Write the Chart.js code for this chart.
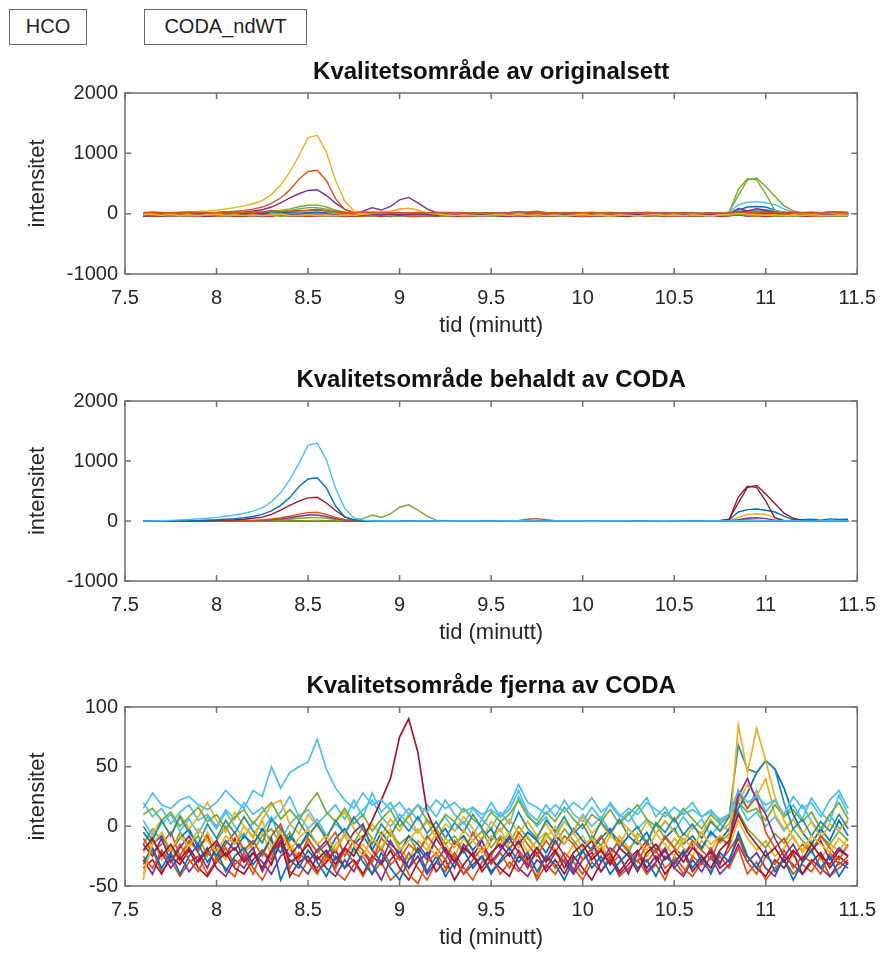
<!DOCTYPE html>
<html>
<head>
<meta charset="utf-8">
<script src="https://cdn.jsdelivr.net/npm/chart.js@4.4.1/dist/chart.umd.min.js"></script>
<style>
  body { margin: 0; background: #fff; width: 888px; height: 956px; position: relative; overflow: hidden;
         font-family: "Liberation Sans", Arial, sans-serif; }
  .btn { position: absolute; top: 9px; height: 36px; box-sizing: border-box; border: 1.5px solid #6a6a6a;
         font-size: 20px; line-height: 33px; text-align: center; color: #222; background: #fff; }
  .panel { position: absolute; left: 0; width: 888px; }
</style>
</head>
<body>
<div class="btn" style="left:9px;width:78px">HCO</div>
<div class="btn" style="left:144px;width:163px">CODA_ndWT</div>
<div class="panel" style="top:48px"><canvas id="c1" width="888" height="296"></canvas></div>
<div class="panel" style="top:356px"><canvas id="c2" width="888" height="295"></canvas></div>
<div class="panel" style="top:662px"><canvas id="c3" width="888" height="294"></canvas></div>
<script>
// tidsakse (minutt), felles for alle kurvene
const time = [
  7.60, 7.65, 7.70, 7.75, 7.80, 7.85, 7.90, 7.95, 8.00, 8.05,
  8.10, 8.15, 8.20, 8.25, 8.30, 8.35, 8.40, 8.45, 8.50, 8.55,
  8.60, 8.65, 8.70, 8.75, 8.80, 8.85, 8.90, 8.95, 9.00, 9.05,
  9.10, 9.15, 9.20, 9.25, 9.30, 9.35, 9.40, 9.45, 9.50, 9.55,
  9.60, 9.65, 9.70, 9.75, 9.80, 9.85, 9.90, 9.95, 10.00, 10.05,
  10.10, 10.15, 10.20, 10.25, 10.30, 10.35, 10.40, 10.45, 10.50, 10.55,
  10.60, 10.65, 10.70, 10.75, 10.80, 10.85, 10.90, 10.95, 11.00, 11.05,
  11.10, 11.15, 11.20, 11.25, 11.30, 11.35, 11.40, 11.45
];

const xTicks = [7.5, 8, 8.5, 9, 9.5, 10, 10.5, 11, 11.5];
const yTicksBig = [-1000, 0, 1000, 2000];
const yTicksSmall = [-50, 0, 50, 100];

// kurver som CODA beheld
const kept1 = [
  0, 2, 5, 10, 18, 25, 35, 45, 60, 80,
  100, 130, 165, 220, 320, 470, 690, 960, 1260, 1300,
  1020, 550, 210, 50, 15, 5, 0, 3, 0, -2,
  0, 2, 0, -3, 0, 2, 0, 0, -2, 0,
  0, 3, 0, 0, -2, 0, 2, 0, 0, -3,
  0, 0, 2, 0, -2, 0, 0, 3, 0, 0,
  -2, 0, 0, 2, 0, 5, 8, 5, 3, 0,
  0, 2, 0, -2, 0, 3, 0, 0
];
const kept2 = [
  0, 0, 2, 0, 5, 5, 10, 15, 20, 30,
  40, 55, 75, 110, 170, 260, 390, 570, 700, 720,
  550, 250, 70, 20, 5, 0, 2, 0, -2, 0,
  0, 0, 2, 0, 0, -2, 0, 2, 0, 0,
  -2, 0, 0, 2, 0, 0, -2, 0, 0, 2,
  0, 0, -2, 0, 2, 0, 0, 0, -2, 0,
  0, 0, 2, 0, 0, 4, 6, 4, 2, 0,
  0, 0, 2, 0, 0, -2, 0, 0
];
const kept3 = [
  0, 0, 0, 2, 0, 3, 5, 8, 10, 15,
  20, 30, 45, 65, 110, 180, 260, 330, 385, 395,
  300, 175, 70, 20, 5, 0, 0, 2, 0, 0,
  -2, 0, 0, 2, 0, 0, 0, -2, 0, 0,
  2, 0, 0, 0, -2, 0, 0, 2, 0, 0,
  0, -2, 0, 0, 2, 0, 0, 0, -2, 0,
  0, 2, 0, 0, 3, 8, 12, 10, 5, 2,
  0, 0, -2, 0, 0, 2, 0, 0
];
const kept4 = [
  0, 0, 0, 0, 0, 0, 0, 2, 3, 5,
  5, 8, 10, 20, 35, 55, 80, 115, 140, 145,
  110, 60, 25, 5, 0, 2, 0, 0, -2, 0,
  0, 2, 0, 0, 0, -2, 0, 0, 2, 0,
  0, 0, -2, 0, 0, 2, 0, 0, 0, -2,
  0, 0, 2, 0, 0, 0, -2, 0, 0, 2,
  0, 0, 0, -2, 0, 2, 4, 3, 0, 0,
  2, 0, 0, 0, -2, 0, 0, 2
];
const kept5 = [
  0, 0, 2, 0, 0, 0, -2, 0, 2, 3,
  3, 5, 6, 10, 20, 35, 55, 80, 100, 100,
  75, 40, 15, 5, 0, 0, 2, 0, 0, 0,
  -2, 0, 0, 2, 0, 0, 0, -2, 0, 0,
  2, 0, 0, 0, -2, 0, 0, 2, 0, 0,
  0, -2, 0, 0, 2, 0, 0, 0, -2, 0,
  0, 2, 0, 0, 0, 5, 8, 6, 2, 0,
  0, 0, -2, 0, 0, 2, 0, 0
];
const kept6 = [
  0, 0, 0, 2, 0, 0, 0, 0, 2, 2,
  2, 3, 5, 6, 10, 20, 30, 45, 55, 60,
  45, 25, 10, 3, 0, 0, 0, 2, 0, 0,
  0, -2, 0, 0, 2, 0, 0, 0, -2, 0,
  0, 2, 0, 0, 0, -2, 0, 0, 2, 0,
  0, 0, -2, 0, 0, 2, 0, 0, 0, -2,
  0, 0, 2, 0, 0, 3, 5, 4, 2, 0,
  -2, 0, 0, 2, 0, 0, 0, -2
];
const kept7 = [
  0, 0, 2, 0, 0, 0, -2, 0, 0, 2,
  0, 0, 0, -2, 0, 2, 0, 0, 3, 5,
  0, 0, 5, 10, 40, 100, 60, 120, 230, 270,
  180, 80, 15, 3, 0, 0, 2, 0, 0, 0,
  -2, 0, 0, 2, 0, 0, 0, -2, 0, 0,
  2, 0, 0, 0, -2, 0, 0, 2, 0, 0,
  0, -2, 0, 0, 2, 4, 6, 5, 2, 0,
  0, 2, 0, 0, 0, -2, 0, 0
];
const kept8 = [
  0, 0, -2, 0, 0, 2, 0, 0, 0, -2,
  0, 0, 2, 0, 0, 0, -2, 0, 4, 6,
  2, 0, 0, 0, -2, 0, 0, 2, 0, 0,
  0, -2, 0, 0, 2, 0, 0, 0, -2, 0,
  0, 2, 0, 0, 0, -2, 0, 0, 2, 0,
  0, 0, -2, 0, 0, 2, 0, 0, 0, 2,
  0, 0, 2, 5, 30, 300, 560, 590, 450, 290,
  130, 45, 10, 3, 0, 2, 0, 0
];
const kept9 = [
  0, 2, 0, 0, -2, 0, 0, 0, 2, 0,
  0, -2, 0, 0, 0, 2, 0, 0, 3, 4,
  0, 0, -2, 0, 0, 0, 2, 0, 0, -2,
  0, 0, 0, 2, 0, 0, -2, 0, 0, 0,
  2, 0, 0, -2, 0, 0, 0, 2, 0, 0,
  -2, 0, 0, 0, 2, 0, 0, -2, 0, 0,
  0, 0, 0, 3, 20, 400, 580, 560, 330, 50,
  5, 0, 0, 0, 2, 0, 0, 0
];
const kept10 = [
  0, 0, 2, 0, 0, -2, 0, 0, 0, 2,
  0, 0, -2, 0, 0, 0, 2, 0, 5, 8,
  3, 0, 0, 0, 2, 0, 0, -2, 0, 0,
  0, 2, 0, 0, -2, 0, 0, 0, 2, 0,
  0, -2, 0, 0, 0, 2, 0, 0, -2, 0,
  0, 0, 2, 0, 0, -2, 0, 0, 0, 2,
  0, 2, 0, 5, 20, 150, 190, 200, 180, 150,
  80, 20, 20, 30, 15, 35, 25, 30
];
const kept11 = [
  0, -2, 0, 0, 2, 0, 0, 0, -2, 0,
  0, 2, 0, 0, -2, 0, 0, 2, 3, 2,
  0, 0, 0, -2, 0, 0, 2, 0, 0, 0,
  -2, 0, 0, 0, 2, 0, 0, -2, 0, 0,
  0, 2, 0, 0, -2, 0, 0, 0, 2, 0,
  0, -2, 0, 0, 0, 2, 0, 0, -2, 0,
  0, 0, 2, 0, 10, 60, 110, 120, 110, 60,
  10, 0, 2, 0, 0, 3, 0, 0
];
const kept12 = [
  0, 0, 0, 2, 0, 0, -2, 0, 0, 0,
  2, 0, 0, -2, 0, 0, 0, 2, 4, 3,
  0, -2, 0, 0, 0, 2, 0, 0, -2, 0,
  0, 0, 2, 0, 0, -2, 0, 0, 0, 2,
  0, 0, -2, 0, 0, 0, 2, 0, 0, -2,
  0, 0, 0, 2, 0, 0, -2, 0, 0, 0,
  0, 0, 0, 0, 5, 20, 45, 55, 40, 15,
  3, 0, 0, 0, 0, 0, 0, 0
];
const kept13 = [
  -2, 0, 0, 0, 2, 0, 0, -2, 0, 0,
  0, 2, 0, 0, -2, 0, 0, 0, 2, 0,
  0, -2, 0, 0, 0, 2, 0, 0, -2, 0,
  0, 0, 2, 0, 0, -2, 0, 0, 0, 2,
  2, 10, 30, 40, 20, 5, 0, 0, 2, 0,
  0, -2, 0, 0, 0, 2, 0, 0, -2, 0,
  0, 0, 2, 0, 0, 3, 5, 3, 0, 0,
  -2, 0, 0, 0, 2, 0, 0, -2
];

// kurver som CODA fjerna
const removed1 = [
  15, 28, 18, 15, 22, 25, 18, 14, 20, 30,
  22, 15, 30, 25, 50, 32, 45, 50, 54, 73,
  48, 32, 22, 15, 28, 18, 22, 14, 20, 10,
  18, 12, 22, 15, 20, 12, 16, 10, 14, 8,
  18, 35, 20, 16, 10, 18, 12, 20, 14, 24,
  12, 18, 8, 15, 10, 20, 14, 8, 16, 10,
  14, 8, 12, 6, 10, 30, 20, 25, 18, 22,
  10, 25, 15, 20, 8, 22, 30, 15
];
const removed2 = [
  -20, -10, -25, -15, -28, -18, -30, -20, -12, -25,
  -18, -30, -22, -35, -20, -8, -30, -25, -15, -28,
  -20, -32, -18, -25, -10, 5, 22, 40, 75, 90,
  62, 12, -5, -20, -30, -18, -25, -35, -22, -15,
  -25, -12, -28, -18, -30, -20, -35, -22, -15, -28,
  -20, -32, -18, -25, -38, -22, -15, -28, -20, -30,
  -18, -25, -35, -20, -12, 10, -5, -15, -25, -18,
  -30, -20, -28, -15, -25, -32, -20, -25
];
const removed3 = [
  -40, -15, -5, -20, -8, -18, -2, -12, -22, -8,
  -15, 0, -10, 5, -18, -5, -20, -10, -2, -15,
  -8, -20, -5, -15, -25, -10, -18, -5, -20, -12,
  -2, -15, -25, -10, -18, -3, -12, -22, -8, -15,
  -5, -18, -8, -20, -10, 0, -15, -5, -18, -10,
  -22, -8, -15, -2, -12, -20, -6, -15, -25, -10,
  -18, -5, -15, -8, -10, 85, 45, 82, 55, 25,
  5, -10, -20, -8, -15, -22, -10, -18
];
const removed4 = [
  -30, -18, -35, -22, -40, -25, -15, -30, -20, -38,
  -25, -18, -32, -22, -10, -45, -28, -35, -20, -30,
  -42, -25, -35, -18, -30, -40, -22, -35, -45, -28,
  -20, -38, -25, -42, -30, -20, -35, -25, -40, -28,
  -18, -30, -22, -38, -25, -32, -45, -28, -20, -35,
  -25, -40, -30, -22, -35, -28, -42, -25, -32, -20,
  -35, -25, -40, -22, -30, -5, -25, -35, -20, -38,
  -28, -45, -30, -20, -35, -25, -42, -30
];
const removed5 = [
  0, -12, 5, -8, 8, -5, -15, 2, -10, 5,
  -6, 8, -4, -14, 6, -2, -12, 4, -8, 2,
  -10, 5, -6, 8, -3, -15, 2, -8, 6, -4,
  8, -6, 4, -10, 3, -5, 10, -2, -12, 4,
  -6, 12, -2, -10, 5, -4, 8, -6, 2, -12,
  4, -6, 6, -8, 0, -14, 3, -5, 7, -7,
  2, -10, 4, -4, 8, 68, 48, 45, 55, 48,
  20, -2, 6, -8, 4, -4, 10, -2
];
const removed6 = [
  -15, -25, -10, -30, -18, -8, -22, -35, -15, -25,
  -10, -28, -18, -38, -22, -12, -25, -15, -30, -20,
  -12, -28, -18, -5, 2, -20, -30, -12, -25, -35,
  -18, -28, -10, -22, -35, -15, -25, -12, -30, -20,
  -10, -22, -35, -18, -28, -12, -25, -38, -20, -12,
  -30, -18, -25, -40, -22, -12, -28, -18, -35, -25,
  -15, -30, -20, -32, -15, 25, 40, 22, 10, -10,
  -25, -15, -30, -20, -12, -28, -18, -25
];
const removed7 = [
  10, 15, 5, 12, 0, 8, 16, 4, 10, -2,
  8, 14, 2, 12, 20, 6, 14, 5, 18, 28,
  12, 4, 15, 2, 10, -4, 6, 14, 0, 8,
  18, 5, -2, 10, 4, 15, 6, 0, 12, 4,
  10, 22, 8, 2, 12, 4, 16, 6, -2, 10,
  4, 14, 2, 10, 18, 6, 0, 12, 4, 15,
  6, -2, 10, 2, 8, 20, 12, 15, 5, 18,
  8, 14, 4, 12, -2, 10, 20, 6
];
const removed8 = [
  -25, -35, -20, -30, -15, -28, -38, -22, -30, -18,
  -32, -25, -40, -20, -28, -5, -35, -22, -30, -40,
  -25, -35, -20, -30, -42, -28, -18, -32, -25, -40,
  -48, -30, -22, -35, -25, -40, -28, -18, -32, -22,
  -35, -20, -30, -42, -25, -35, -22, -30, -40, -25,
  -18, -32, -25, -38, -22, -30, -20, -35, -28, -40,
  -25, -32, -18, -30, -20, -8, -30, -40, -25, -32,
  -20, -35, -25, -30, -40, -22, -32, -25
];
const removed9 = [
  -10, -22, -15, -5, -25, -12, -20, -8, -28, -15,
  -5, -20, -12, -25, -8, 2, -18, -28, -10, -22,
  -15, -5, -25, -12, -20, -30, -10, -18, -28, -15,
  -22, -8, -18, -28, -12, -22, -5, -18, -25, -10,
  -20, -5, -15, -25, -12, -22, -8, -15, -28, -18,
  -8, -22, -12, -20, -30, -15, -22, -8, -18, -25,
  -12, -20, -28, -10, -15, 30, 15, 25, -5, -18,
  -10, -25, -15, -22, -8, -18, -28, -15
];
const removed10 = [
  -45, -5, 5, -8, 10, -2, 8, 20, 5, -5,
  12, 0, -8, 6, 18, 22, 2, -6, 10, 0,
  -10, 4, 12, -2, -12, 2, -8, 6, -4, 10,
  -6, 4, -10, 2, -4, 8, -2, -12, 4, -4,
  6, -6, 4, -8, 2, -10, 4, -4, 8, -6,
  2, -8, 6, -2, -10, 4, -6, 5, -4, -14,
  0, -6, 6, -4, 2, 20, 35, 25, 40, 10,
  -2, 6, -6, 4, -10, 2, -4, 6
];
const removed11 = [
  -5, -15, -8, -20, -10, -2, -18, -8, -25, -12,
  -20, -8, -15, -2, -12, -22, -8, -18, -5, -15,
  -25, -10, -2, -15, -8, -20, -5, -15, -22, -8,
  -15, -25, -10, -2, -15, -8, -20, -10, -2, -18,
  -8, -15, -5, -12, -22, -8, -15, -2, -12, -20,
  -10, -2, -18, -8, -15, -5, -20, -10, -2, -15,
  -8, -18, -5, -12, -2, 15, 28, 45, 55, 48,
  32, 10, -5, -15, -2, -12, 5, -8
];
const removed12 = [
  5, -8, 2, 10, -4, 6, -6, 8, -2, 12,
  0, -10, 4, -4, 8, -12, 2, 10, -2, 6,
  -8, 2, -6, 6, 14, 22, 8, 0, 10, 2,
  -6, 6, -2, 8, -4, 4, -8, 6, -2, 12,
  2, 25, 10, 0, 8, -6, 4, -4, 10, 0,
  8, -4, 4, 12, -2, 6, -6, 4, -4, 8,
  -2, 6, -8, 2, -4, 20, 5, 12, 0, 8,
  -4, 6, 18, 4, -6, 10, -2, 4
];
const removed13 = [
  -35, -28, -40, -25, -32, -20, -35, -42, -30, -22,
  -35, -40, -28, -20, -32, -12, -42, -30, -25, -38,
  -30, -20, -35, -28, -40, -25, -32, -20, -35, -45,
  -30, -22, -38, -28, -45, -32, -22, -38, -28, -35,
  -42, -25, -32, -22, -38, -28, -40, -25, -35, -45,
  -30, -22, -38, -28, -20, -35, -25, -40, -30, -22,
  -38, -28, -22, -35, -28, -10, -25, -35, -42, -28,
  -35, -22, -40, -30, -22, -35, -25, -32
];
const removed14 = [
  -15, -2, -12, -22, -5, -15, -8, -25, -12, 0,
  -14, -6, -20, -8, -2, -15, -5, -18, -8, 2,
  -12, -22, -6, -14, 0, -10, -20, -5, -15, -8,
  -22, -10, -2, -15, -8, -20, -12, -4, -18, -8,
  -14, 0, -10, -20, -6, -15, -2, -12, -22, -8,
  -16, -4, -12, -22, -6, -14, 2, -10, -18, -6,
  -12, -20, -4, -14, -6, 12, -2, -10, -18, -6,
  -14, -2, -12, -20, -8, -15, -4, -12
];
const removed15 = [
  -28, -40, -22, -35, -25, -38, -28, -18, -35, -42,
  -28, -35, -22, -30, -40, -25, -18, -32, -40, -25,
  -35, -42, -28, -38, -22, -32, -45, -28, -20, -35,
  -25, -40, -30, -18, -28, -40, -32, -25, -38, -30,
  -22, -35, -42, -28, -35, -22, -30, -40, -28, -22,
  -38, -28, -40, -32, -22, -38, -30, -20, -35, -42,
  -28, -38, -25, -40, -32, -15, -30, -22, -35, -42,
  -25, -32, -40, -28, -35, -42, -30, -35
];
const removed16 = [
  20, 8, 15, 2, 12, 18, 5, 10, 0, 14,
  6, 20, 10, 16, 4, 12, 25, 8, 14, 2,
  10, 18, 6, 22, 8, 28, 12, 20, 6, 15,
  5, 18, 8, 22, 10, 2, 15, 6, 20, 8,
  14, 30, 12, 5, 18, 8, 22, 10, 4, 16,
  6, 20, 10, 4, 14, 24, 8, 16, 4, 12,
  20, 8, 14, 4, 10, 25, 15, 30, 12, 22,
  8, 18, 6, 24, 12, 4, 26, 10
];
const removed17 = [
  -32, -20, -38, -28, -42, -30, -25, -40, -28, -35,
  -42, -22, -35, -45, -30, -15, -38, -42, -28, -35,
  -22, -38, -45, -32, -25, -40, -30, -45, -38, -22,
  -35, -45, -30, -38, -22, -35, -45, -30, -25, -40,
  -30, -38, -25, -45, -32, -40, -28, -35, -45, -30,
  -38, -25, -42, -35, -28, -40, -32, -45, -25, -35,
  -42, -30, -38, -25, -35, -18, -40, -30, -45, -35,
  -28, -40, -32, -38, -25, -42, -35, -28
];
const removed18 = [
  -22, -10, -28, -18, -30, -12, -22, -5, -18, -28,
  -10, -22, -15, -5, -25, 0, -15, -25, -12, -20,
  -30, -15, -8, -22, -15, -25, -10, -2, -18, -28,
  -12, -20, -5, -15, -25, -10, -20, -28, -12, -2,
  -18, -8, -22, -12, -5, -20, -28, -15, -8, -22,
  -15, -28, -8, -18, -12, -25, -15, -22, -10, -18,
  -25, -12, -20, -8, -18, 5, -10, -20, -12, -25,
  -18, -8, -22, -12, -28, -15, -20, -10
];

const keptSeries = [kept1, kept2, kept3, kept4, kept5, kept6, kept7, kept8, kept9, kept10, kept11, kept12, kept13];
const removedSeries = [removed1, removed2, removed3, removed4, removed5, removed6, removed7, removed8, removed9,
  removed10, removed11, removed12, removed13, removed14, removed15, removed16, removed17, removed18];

// MATLAB-fargar
const BLUE = '#0072BD', ORANGE = '#D95319', YELLOW = '#EDB120', PURPLE = '#7E2F8E',
      GREEN = '#77AC30', CYAN = '#4DBEEE', RED = '#A2142F', TEAL = '#2E8B9A';
const palette = [BLUE, ORANGE, YELLOW, PURPLE, GREEN, CYAN, RED];

const keptColorsAll = [YELLOW, ORANGE, PURPLE, GREEN, GREEN, TEAL, PURPLE, GREEN, GREEN, CYAN, BLUE, RED, ORANGE];
const keptColors = [CYAN, BLUE, RED, ORANGE, PURPLE, GREEN, GREEN, RED, RED, BLUE, YELLOW, PURPLE, ORANGE];
const removedColors = [CYAN, RED, YELLOW, BLUE, TEAL, PURPLE, GREEN, ORANGE, ORANGE, YELLOW, BLUE, CYAN,
  RED, GREEN, PURPLE, CYAN, ORANGE, YELLOW];

const FONT = '"Liberation Sans", Arial, Helvetica, sans-serif';
const TEXT = '#262626';
const AXIS = '#707070';

const series = (values, color, width) => ({
  data: values.map((v, i) => ({ x: time[i], y: v })),
  borderColor: color,
  borderWidth: width,
  pointRadius: 0,
  fill: false
});

// ramme med tikk innover + titlar
const framePlugin = {
  id: 'frame',
  afterDatasetsDraw(chart, args, opts) {
    const { ctx, chartArea: a, scales } = chart;
    ctx.save();
    ctx.strokeStyle = AXIS;
    ctx.lineWidth = 1.5;
    ctx.strokeRect(a.left, a.top, a.right - a.left, a.bottom - a.top);
    ctx.beginPath();
    scales.x.ticks.forEach(t => {
      const px = scales.x.getPixelForValue(t.value);
      ctx.moveTo(px, a.bottom); ctx.lineTo(px, a.bottom - 6);
      ctx.moveTo(px, a.top); ctx.lineTo(px, a.top + 6);
    });
    scales.y.ticks.forEach(t => {
      const py = scales.y.getPixelForValue(t.value);
      ctx.moveTo(a.left, py); ctx.lineTo(a.left + 6, py);
      ctx.moveTo(a.right, py); ctx.lineTo(a.right - 6, py);
    });
    ctx.stroke();

    ctx.fillStyle = '#111';
    ctx.textAlign = 'center';
    ctx.textBaseline = 'middle';
    ctx.font = 'bold 24px ' + FONT;
    ctx.fillText(opts.title, (a.left + a.right) / 2, a.top - 21);
    ctx.fillStyle = TEXT;
    ctx.font = '22px ' + FONT;
    ctx.fillText('tid (minutt)', (a.left + a.right) / 2, a.bottom + 52);
    ctx.translate(38, (a.top + a.bottom) / 2);
    ctx.rotate(-Math.PI / 2);
    ctx.fillText('intensitet', 0, 0);
    ctx.restore();
  }
};

function makePanel(id, title, datasets, yTicks) {
  new Chart(document.getElementById(id), {
    type: 'line',
    data: { datasets },
    options: {
      responsive: false,
      animation: false,
      layout: { padding: { top: 45, right: 26, left: 0, bottom: 0 } },
      plugins: { legend: { display: false }, tooltip: { enabled: false }, frame: { title } },
      scales: {
        x: {
          type: 'linear',
          min: xTicks[0], max: xTicks[xTicks.length - 1],
          afterBuildTicks: s => { s.ticks = xTicks.map(v => ({ value: v })); },
          afterFit: s => { s.height = 70; },
          grid: { display: false, drawTicks: false },
          border: { display: false },
          ticks: { padding: 12, color: TEXT, font: { family: FONT, size: 20 }, callback: v => String(v), maxRotation: 0 }
        },
        y: {
          min: yTicks[0], max: yTicks[yTicks.length - 1],
          afterBuildTicks: s => { s.ticks = yTicks.map(v => ({ value: v })); },
          afterFit: s => { s.width = 125; },
          grid: { display: false, drawTicks: false },
          border: { display: false },
          ticks: { padding: 7, color: TEXT, font: { family: FONT, size: 20 }, callback: v => String(v) }
        }
      }
    },
    plugins: [framePlugin]
  });
}

makePanel('c1', 'Kvalitetsområde av originalsett',
  removedSeries.map((v, i) => series(v, palette[(i + 1) % palette.length], 1.6))
    .concat(keptSeries.map((v, i) => series(v, keptColorsAll[i], 1.4))),
  yTicksBig);

makePanel('c2', 'Kvalitetsområde behaldt av CODA',
  keptSeries.map((v, i) => series(v, keptColors[i], 1.4)),
  yTicksBig);

makePanel('c3', 'Kvalitetsområde fjerna av CODA',
  removedSeries.map((v, i) => series(v, removedColors[i], 1.7)),
  yTicksSmall);
</script>
</body>
</html>
